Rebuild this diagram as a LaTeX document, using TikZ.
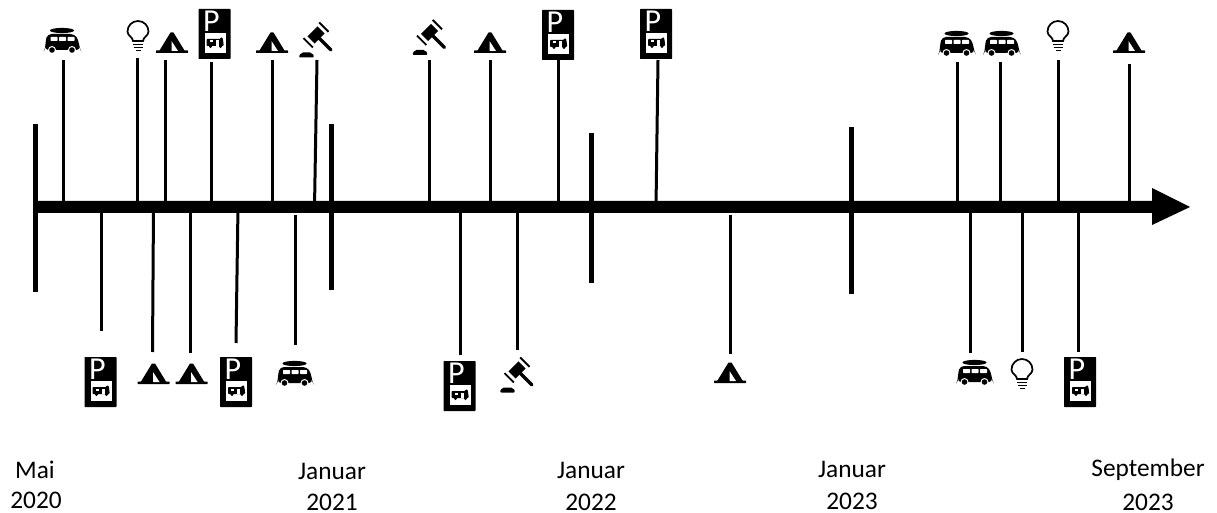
\documentclass[tikz,border=0pt]{standalone}
\usepackage{fontspec}
\setmainfont{Carlito}
\tikzset{
  x=.75pt,y=-.75pt,
  stem/.style={line width=2.25pt,black},
  tickmark/.style={line width=3.75pt,black},
  datelabel/.style={font=\fontsize{19}{23}\selectfont,text=black,inner sep=0pt},
  pics/tent/.style={code={
    \fill[rounded corners=.3pt] (-16,7.5) -- (-12.5,7.5) -- (-1.5,-10.5) -- (1.5,-10.5) -- (12.5,7.5) -- (16,7.5) -- (16,10) -- (-16,10) -- cycle;
    \fill[white] (-.5,-2) -- (6,8) -- (-.5,8) -- cycle;
  }},
  pics/van/.style={code={
    \fill (-.5,-9.5) ellipse (12 and 2.6);
    \fill[rounded corners=3pt] (-15,-6) -- (12,-6) -- (16,0) -- (17,8) -- (18,10) -- (-18,10) -- (-17,8) -- (-17,1) -- cycle;
    \fill[white,rounded corners=.5pt] (-12,-3) rectangle (-5,1);
    \fill[white,rounded corners=.5pt] (-3.5,-3) rectangle (3.5,1);
    \fill[white,rounded corners=.5pt] (5,-3) rectangle (12,1);
    \fill[white] (-10.5,10) circle (4); \fill[white] (9.5,10) circle (4);
    \fill (-10.5,10) circle (2.8); \fill (9.5,10) circle (2.8);
  }},
  pics/bulb/.style={code={
    \draw[line width=1.3pt] (-5,4) .. controls (-5,0) and (-10.5,-1) .. (-10.5,-5.5)
      arc[start angle=180,end angle=360,radius=10.5]
      .. controls (10.5,-1) and (5,0) .. (5,4) -- cycle;
    \draw[line width=1.2pt] (-5,7.5) -- (5,7.5) (-4.5,10.5) -- (4.5,10.5);
    \draw[line width=1.2pt] (-2.5,13.5) -- (2.5,13.5);
  }},
  pics/parking/.style={code={
    \fill[rounded corners=.5pt] (-16,-25) rectangle (16,25);
    \node[inner sep=0pt,text=white,font=\fontsize{24}{24}\selectfont] (-letter) at (-3,-12.5) {P};
    \fill[white] (-10,-1) rectangle (11,19);
    \fill[rounded corners=.6pt] (-8,5) -- (6,5) -- (6,3.5) -- (8,3.5) -- (9,9) -- (9,12) -- (-8,12) -- cycle;
    \fill[white] (-5,6.5) rectangle (-2,8.5);
    \fill[white] (1,6.5) rectangle (4,12);
    \fill (-4,12.5) circle (1.6); \fill (6,12.5) circle (1.6);
  }},
  pics/gavel/.style={code={
    \fill[rounded corners=1.5pt] (-17.5,16.5) -- (-15,11.5) -- (-4,11.5) -- (-1.5,16.5) -- cycle;
    \draw[line width=7.5pt] (-5,-1) -- (5,-11);
    \draw[line width=10pt] (-8.5,2.5) -- (-7.2,1.2);
    \draw[line width=10pt] (7.2,-13.2) -- (8.5,-14.5);
    \draw[line width=2.6pt,line cap=round] (3,-3) -- (15,9);
  }}
}
\begin{document}
\begin{tikzpicture}
\useasboundingbox[fill=white] (0,0) rectangle (1217,513);

% main axis with arrow
\coordinate (axisstart) at (35,207);
\coordinate (axisend) at (1190,207);
\fill (axisstart) ++(0,-6) -- (1152,201) -- (1152,188) -- (axisend) -- (1152,225) -- (1152,213) -- (35,213) -- cycle;

% year ticks
\foreach \n/\x/\a/\b in {mai/35/124/292,jan1/331/124/290,jan2/591/133/283,jan3/851/127/294}{
  \coordinate (\n top) at (\x,\a);
  \coordinate (\n bot) at (\x,\b);
  \draw[tickmark] (\n top) -- (\n bot);
}

% stems
\foreach \n/\xa/\ya/\xb/\yb in {
  a/63/207/63/60, b/137/207/137/58, c/165/207/165/60, d/211/207/211/62,
  e/272/207/272/60, f/314.5/207/317/60, g/429/207/429/60, h/490/207/490/60,
  i/558.5/207/558.5/60, j/656/207/658/60, k/957/207/957/62, l/1000/207/1000/62,
  m/1058/207/1058/60, n/1129/207/1129/64,
  o/101/207/101/331, p/153.5/207/152.5/352, q/190/207/190/353, r/238/207/236/343,
  s/295/215/295/345, t/460/207/460/355, u/517.5/207/517.5/350, v/730/215/730/354,
  w/970/207/970/353, x/1022/207/1022/352, y/1078/207/1078/352}{
  \coordinate (\n0) at (\xa,\ya);
  \coordinate (\n1) at (\xb,\yb);
  \draw[stem] (\n0) -- (\n1);
}

% icons above
\pic at (62.5,40) {van};
\pic at (138,37) {bulb};
\pic at (172,43) {tent};
\pic (p1) at (214.5,34) {parking};
\pic at (272,43) {tent};
\pic at (316,41) {gavel};
\pic at (429.5,38.5) {gavel};
\pic at (490,43) {tent};
\pic (p2) at (558,35) {parking};
\pic (p3) at (656,34) {parking};
\pic at (957,43) {van};
\pic at (1002,43) {van};
\pic at (1058,37) {bulb};
\pic at (1129,43) {tent};

% icons below
\pic (p4) at (100.5,382) {parking};
\pic at (153.5,374) {tent};
\pic at (191.5,374) {tent};
\pic (p5) at (236,382) {parking};
\pic at (295,373) {van};
\pic (p6) at (459.5,386) {parking};
\pic at (517,376) {gavel};
\pic at (730,373) {tent};
\pic at (975,372) {van};
\pic at (1022,375) {bulb};
\pic (p7) at (1080,382) {parking};

% dates
\node[datelabel] (d1) at (35,470) {Mai};
\node[datelabel] (d2) at (36,500) {2020};
\node[datelabel] (d3) at (332,471) {Januar};
\node[datelabel] (d4) at (332,502) {2021};
\node[datelabel] (d5) at (591,470) {Januar};
\node[datelabel] (d6) at (591,502) {2022};
\node[datelabel] (d7) at (852,469) {Januar};
\node[datelabel] (d8) at (852,501) {2023};
\node[datelabel] (d9) at (1148,470) {September};
\node[datelabel] (d10) at (1148,502) {2023};
\end{tikzpicture}
\end{document}
